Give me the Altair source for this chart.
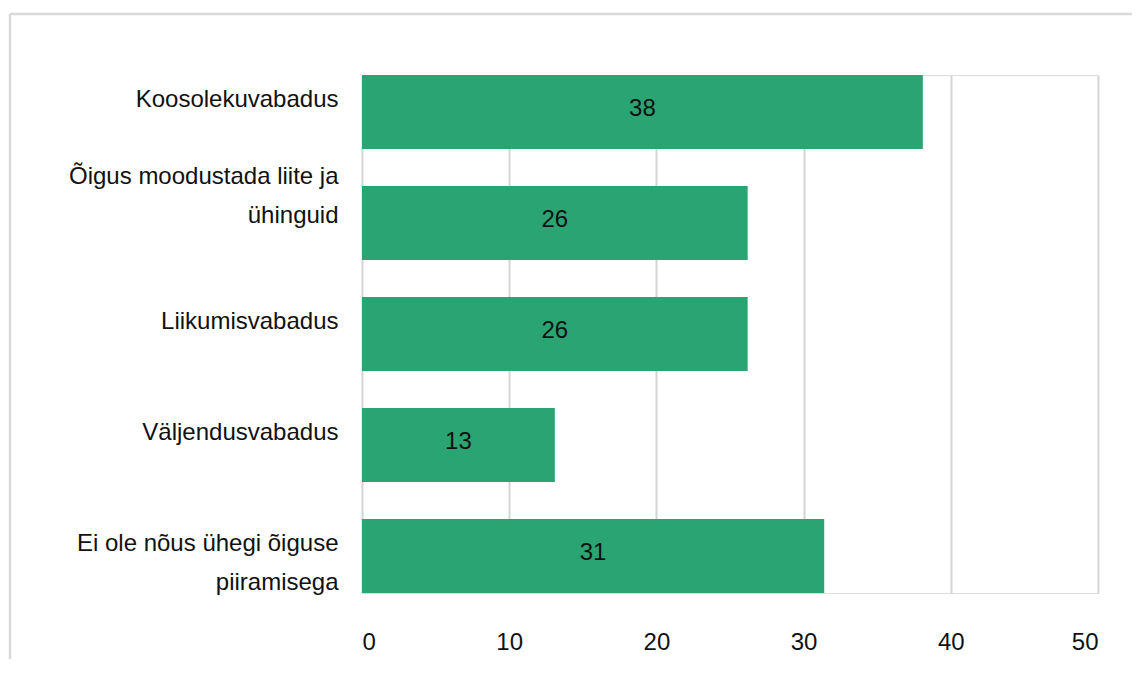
import altair as alt
import pandas as pd

categories = [
    "Koosolekuvabadus",
    "Õigus moodustada liite ja|ühinguid",
    "Liikumisvabadus",
    "Väljendusvabadus",
    "Ei ole nõus ühegi õiguse|piiramisega",
]
values = [38.1, 26.2, 26.2, 13.1, 31.4]
x_ticks = [0, 10, 20, 30, 40, 50]

df = pd.DataFrame({"category": categories, "value": values})

FONT = "Liberation Sans"
GRID = "#d4d4d4"
BAR = "#2ba473"

y_enc = alt.Y(
    "category:N",
    sort=categories,
    title=None,
    scale=alt.Scale(paddingInner=0.333, paddingOuter=0),
    axis=alt.Axis(
        labelExpr="split(datum.label, '|')",
        labelFont=FONT,
        labelFontSize=24,
        labelColor="#111111",
        labelLineHeight=39,
        labelPadding=24,
        labelLimit=400,
        labelOffset={
            "condition": {"test": "indexof(datum.value, 'Õigus') == 0", "value": -46},
            "value": -12,
        },
        ticks=False,
        tickSize=0,
        domain=False,
        grid=False,
    ),
)

bars = alt.Chart(df).mark_bar(color=BAR).encode(
    x=alt.X(
        "value:Q",
        title=None,
        scale=alt.Scale(domain=[0, 50], nice=False),
        axis=alt.Axis(
            values=x_ticks,
            labelFont=FONT,
            labelFontSize=24,
            labelColor="#111111",
            labelPadding=37,
            ticks=False,
            tickSize=0,
            domain=False,
            grid=True,
            gridColor=GRID,
            gridWidth=2,
        ),
    ),
    y=y_enc,
)

labels = alt.Chart(df).transform_calculate(mid="datum.value / 2").mark_text(
    font=FONT, fontSize=24, color="#111111", baseline="middle", align="center", dy=-3
).encode(
    x=alt.X("mid:Q"),
    y=alt.Y("category:N", sort=categories),
    text=alt.Text("value:Q", format=".0f"),
)

frame_data = alt.Data(values=[{"k": 1}])
frame_top = alt.Chart(frame_data).mark_rule(color="#d9d9d9", strokeWidth=2.5).encode(
    x=alt.value(-352), x2=alt.value(800), y=alt.value(-61)
)
frame_left = alt.Chart(frame_data).mark_rule(color="#d9d9d9", strokeWidth=2.5).encode(
    x=alt.value(-352), y=alt.value(-61), y2=alt.value(640)
)

chart = alt.layer(frame_top, frame_left, bars, labels).properties(
    width=736,
    height=518,
    autosize=alt.AutoSizeParams(type="none"),
    padding={"left": 354, "top": 67, "right": 34, "bottom": 66},
).configure_view(
    stroke=GRID, strokeWidth=2
).configure(background="white")

chart.save("out.html", embed_options={"renderer": "svg", "actions": False})
